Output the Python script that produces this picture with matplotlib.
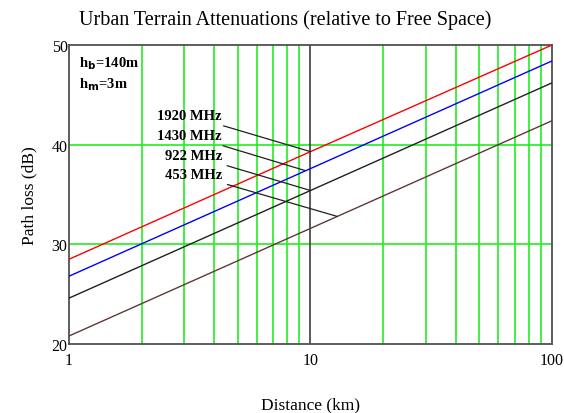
import matplotlib.pyplot as plt
from matplotlib.ticker import FixedLocator, NullFormatter

# distances (km) and path loss (dB)
distance = [1, 10, 100]
loss_1920 = [28.5, 39.3, 50.0]
loss_1430 = [26.8, 37.6, 48.4]
loss_922 = [24.6, 35.4, 46.2]
loss_453 = [20.8, 31.6, 42.4]

labels = ['1920 MHz', '1430 MHz', '922 MHz', '453 MHz']
label_xy = [(4.3, 42.9), (4.3, 40.9), (4.3, 38.9), (4.3, 37.0)]
arrow_xy = [(10, 39.3), (9.5, 37.4), (10, 35.4), (12.9, 32.8)]

plt.rcParams['font.family'] = ['Liberation Serif', 'DejaVu Serif']

fig = plt.figure(figsize=(5.64, 4.14), dpi=100)
ax = fig.add_axes([0.1223, 0.1667, 0.8564, 0.7222])
ax.set_xscale('log')
ax.set_xlim(1, 100)
ax.set_ylim(20, 50)

green = '#22ee22'
minor = [2, 3, 4, 5, 6, 7, 8, 9, 20, 30, 40, 50, 60, 70, 80, 90]
for m in minor:
    ax.axvline(m, color=green, lw=1.2, zorder=1)
for y in [30, 40]:
    ax.axhline(y, color=green, lw=1.2, zorder=1)
ax.axvline(10, color='#404040', lw=1.2, zorder=1)

ax.plot(distance, loss_1920, color='red', lw=1, zorder=3)
ax.plot(distance, loss_1430, color='blue', lw=1, zorder=3)
ax.plot(distance, loss_922, color='#202020', lw=1, zorder=3)
ax.plot(distance, loss_453, color='#603838', lw=1, zorder=3)

for lab, txy, axy in zip(labels, label_xy, arrow_xy):
    ax.annotate(lab, xy=axy, xytext=txy, ha='right', va='center',
                fontsize=10.5, fontweight='bold',
                arrowprops=dict(arrowstyle='-', color='#202020', lw=0.9,
                                shrinkA=2, shrinkB=0))

ax.text(0.02, 0.94, r'h$_\mathbf{b}$=140m', transform=ax.transAxes,
        fontsize=10.5, fontweight='bold', va='center')
ax.text(0.02, 0.87, r'h$_\mathbf{m}$=3m', transform=ax.transAxes,
        fontsize=10.5, fontweight='bold', va='center')

ax.xaxis.set_major_locator(FixedLocator([1, 10, 100]))
ax.xaxis.set_minor_locator(FixedLocator(minor))
ax.xaxis.set_minor_formatter(NullFormatter())
ax.set_xticklabels(['1', '10', '100'])
ax.set_yticks([20, 30, 40, 50])
ax.tick_params(which='both', length=0, labelsize=11.5)
ax.tick_params(axis='x', pad=6)
ax.tick_params(axis='y', pad=1)

for s in ax.spines.values():
    s.set_color('#505050')
    s.set_linewidth(1.3)

fig.text(285 / 564, 1 - 20 / 414,
         'Urban Terrain Attenuations (relative to Free Space)',
         fontsize=14.5, ha='center', va='center')
ax.set_xlabel('Distance (km)', fontsize=12.5, labelpad=20)
ax.set_ylabel('Path loss (dB)', fontsize=12.5, labelpad=10)

fig.savefig('out.png', dpi=100)
